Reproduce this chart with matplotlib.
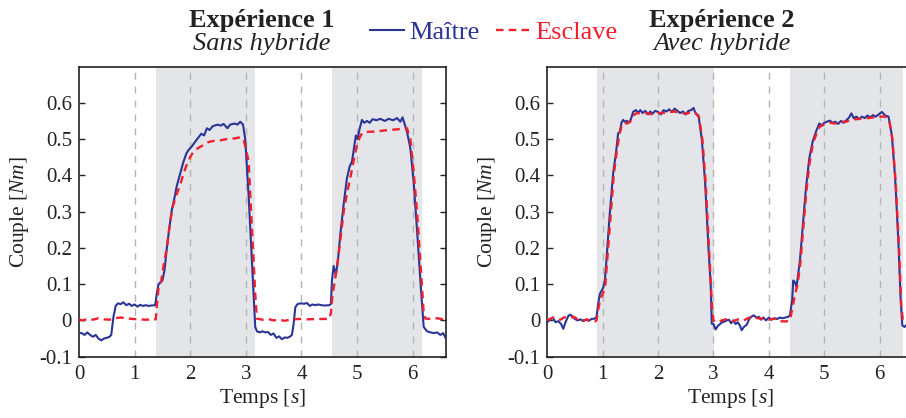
import numpy as np
import matplotlib
matplotlib.use("Agg")
import matplotlib.pyplot as plt
from matplotlib.lines import Line2D

# police type Times
plt.rcParams['font.family'] = ['Liberation Serif', 'DejaVu Serif']
plt.rcParams['mathtext.fontset'] = 'custom'
plt.rcParams['mathtext.rm'] = 'Liberation Serif'
plt.rcParams['mathtext.it'] = 'Liberation Serif:italic'

# ---- données : expérience 1 (sans hybride) ----
t1_maitre = [0.00, 0.05, 0.10, 0.15, 0.20, 0.25, 0.30, 0.35, 0.40, 0.45, 0.50, 0.55, 0.58, 0.62, 0.66,
             0.70, 0.75, 0.80, 0.85, 0.90, 0.95, 1.00, 1.05, 1.10, 1.15, 1.20, 1.25, 1.30, 1.37, 1.40,
             1.43, 1.47, 1.50, 1.54, 1.58, 1.62, 1.67, 1.72, 1.76, 1.82, 1.88, 1.93, 1.97, 2.03, 2.10,
             2.15, 2.20, 2.25, 2.30, 2.35, 2.40, 2.45, 2.50, 2.55, 2.60, 2.67, 2.72, 2.80, 2.85, 2.90,
             2.95, 2.99, 3.05, 3.11, 3.17, 3.20, 3.25, 3.30, 3.35, 3.40, 3.45, 3.50, 3.55, 3.60, 3.65,
             3.70, 3.75, 3.80, 3.83, 3.86, 3.89, 3.93, 3.98, 4.05, 4.10, 4.15, 4.20, 4.25, 4.30, 4.40,
             4.50, 4.53, 4.55, 4.58, 4.62, 4.66, 4.70, 4.76, 4.82, 4.87, 4.91, 4.95, 4.98, 5.01, 5.05,
             5.09, 5.13, 5.18, 5.23, 5.28, 5.35, 5.42, 5.50, 5.57, 5.65, 5.72, 5.78, 5.82, 5.85, 5.90,
             5.96, 6.02, 6.08, 6.14, 6.20, 6.26, 6.32, 6.38, 6.44, 6.50, 6.55, 6.60]
maitre1 = [-0.035, -0.035, -0.040, -0.033, -0.040, -0.045, -0.040, -0.050, -0.055, -0.050, -0.048, -0.045,
           -0.040, 0.010, 0.040, 0.047, 0.045, 0.050, 0.042, 0.046, 0.040, 0.044, 0.038, 0.043, 0.040,
           0.042, 0.040, 0.041, 0.042, 0.075, 0.100, 0.105, 0.110, 0.140, 0.200, 0.250, 0.305, 0.340,
           0.372, 0.405, 0.438, 0.460, 0.470, 0.480, 0.495, 0.505, 0.515, 0.510, 0.530, 0.525, 0.535,
           0.538, 0.540, 0.537, 0.542, 0.530, 0.540, 0.543, 0.540, 0.548, 0.540, 0.500, 0.347, 0.164,
           -0.018, -0.030, -0.033, -0.030, -0.033, -0.032, -0.040, -0.036, -0.048, -0.044, -0.052, -0.047,
           -0.048, -0.044, -0.040, -0.010, 0.036, 0.045, 0.047, 0.046, 0.048, 0.040, 0.044, 0.042, 0.044,
           0.041, 0.042, 0.045, 0.110, 0.150, 0.125, 0.170, 0.237, 0.320, 0.393, 0.425, 0.438, 0.480,
           0.510, 0.500, 0.530, 0.553, 0.545, 0.550, 0.545, 0.555, 0.552, 0.556, 0.550, 0.556, 0.552,
           0.558, 0.548, 0.560, 0.545, 0.520, 0.475, 0.380, 0.250, 0.110, -0.018, -0.030, -0.033, -0.035,
           -0.033, -0.040, -0.035, -0.050]

t1_esclave = [0.00, 0.08, 0.15, 0.25, 0.35, 0.45, 0.55, 0.65, 0.75, 0.90, 1.05, 1.20, 1.38, 1.40, 1.43,
              1.48, 1.53, 1.58, 1.63, 1.68, 1.75, 1.82, 1.88, 1.94, 2.00, 2.06, 2.15, 2.24, 2.33, 2.42,
              2.55, 2.66, 2.80, 2.90, 2.96, 2.99, 3.05, 3.11, 3.17, 3.20, 3.30, 3.40, 3.50, 3.60, 3.70,
              3.80, 3.95, 4.10, 4.30, 4.50, 4.53, 4.56, 4.64, 4.70, 4.76, 4.82, 4.88, 4.94, 5.00, 5.05,
              5.09, 5.20, 5.35, 5.50, 5.65, 5.80, 5.90, 5.96, 6.02, 6.08, 6.14, 6.20, 6.23, 6.35, 6.45,
              6.55, 6.60]
esclave1 = [0.002, 0.000, 0.005, 0.002, 0.006, 0.003, 0.002, 0.006, 0.008, 0.005, 0.003, 0.002, 0.003,
            0.040, 0.090, 0.110, 0.160, 0.200, 0.260, 0.310, 0.345, 0.374, 0.405, 0.430, 0.450, 0.466,
            0.476, 0.484, 0.492, 0.495, 0.497, 0.500, 0.502, 0.505, 0.500, 0.480, 0.440, 0.256, 0.073,
            0.005, 0.002, 0.004, 0.000, 0.002, -0.001, 0.002, 0.004, 0.003, 0.004, 0.004, 0.020, 0.070,
            0.146, 0.220, 0.300, 0.350, 0.393, 0.440, 0.484, 0.505, 0.516, 0.520, 0.521, 0.524, 0.526,
            0.528, 0.530, 0.500, 0.410, 0.300, 0.164, 0.020, 0.005, 0.004, 0.006, 0.003, 0.002]

# ---- données : expérience 2 (avec hybride) ----
t2_maitre = [0.00, 0.05, 0.10, 0.15, 0.20, 0.25, 0.29, 0.33, 0.38, 0.41, 0.45, 0.50, 0.55, 0.60, 0.65,
             0.70, 0.75, 0.80, 0.86, 0.89, 0.92, 0.95, 1.01, 1.04, 1.07, 1.13, 1.19, 1.24, 1.28, 1.31,
             1.34, 1.37, 1.40, 1.44, 1.47, 1.51, 1.55, 1.60, 1.64, 1.68, 1.72, 1.77, 1.82, 1.86, 1.90,
             1.95, 2.00, 2.05, 2.10, 2.15, 2.20, 2.25, 2.30, 2.35, 2.40, 2.45, 2.50, 2.55, 2.60, 2.64,
             2.68, 2.73, 2.79, 2.85, 2.91, 2.95, 2.97, 3.00, 3.04, 3.08, 3.12, 3.16, 3.20, 3.24, 3.28,
             3.32, 3.36, 3.40, 3.44, 3.48, 3.51, 3.55, 3.60, 3.65, 3.69, 3.73, 3.78, 3.82, 3.86, 3.90,
             3.95, 4.00, 4.05, 4.10, 4.15, 4.20, 4.25, 4.30, 4.35, 4.38, 4.42, 4.44, 4.47, 4.50, 4.56,
             4.62, 4.67, 4.73, 4.79, 4.85, 4.91, 4.96, 5.00, 5.05, 5.10, 5.15, 5.20, 5.25, 5.30, 5.35,
             5.40, 5.45, 5.49, 5.53, 5.58, 5.63, 5.68, 5.73, 5.78, 5.83, 5.88, 5.93, 5.98, 6.04, 6.10,
             6.16, 6.22, 6.28, 6.34, 6.38, 6.41, 6.45, 6.50, 6.55, 6.60]
maitre2 = [-0.005, 0.002, 0.008, -0.005, -0.002, -0.010, -0.023, -0.005, 0.012, 0.016, 0.012, 0.004,
           0.000, 0.003, -0.002, 0.002, -0.001, 0.004, 0.005, 0.010, 0.046, 0.073, 0.090, 0.110, 0.169,
           0.297, 0.406, 0.461, 0.516, 0.520, 0.545, 0.553, 0.548, 0.550, 0.545, 0.555, 0.575, 0.580,
           0.573, 0.580, 0.572, 0.578, 0.568, 0.576, 0.570, 0.578, 0.575, 0.568, 0.580, 0.576, 0.582,
           0.575, 0.584, 0.578, 0.572, 0.576, 0.568, 0.578, 0.580, 0.586, 0.570, 0.565, 0.500, 0.380,
           0.200, 0.100, -0.009, -0.010, -0.025, -0.015, -0.010, -0.005, -0.003, 0.000, 0.002, -0.008,
           0.000, -0.010, -0.005, -0.015, -0.027, -0.018, -0.012, 0.005, 0.011, 0.014, 0.007, 0.010,
           0.002, 0.008, 0.000, 0.008, 0.002, 0.006, 0.004, 0.008, 0.006, 0.008, 0.010, 0.014, 0.055,
           0.110, 0.105, 0.092, 0.164, 0.274, 0.365, 0.447, 0.493, 0.520, 0.543, 0.538, 0.545, 0.548,
           0.551, 0.545, 0.548, 0.542, 0.550, 0.545, 0.552, 0.560, 0.571, 0.558, 0.562, 0.555, 0.562,
           0.558, 0.565, 0.560, 0.566, 0.562, 0.568, 0.575, 0.565, 0.562, 0.511, 0.393, 0.210, 0.055,
           -0.014, -0.018, -0.010, -0.015, -0.012]

t2_esclave = [0.00, 0.06, 0.12, 0.18, 0.24, 0.30, 0.36, 0.42, 0.48, 0.54, 0.60, 0.66, 0.72, 0.78, 0.86,
              0.89, 0.92, 0.96, 1.01, 1.05, 1.09, 1.15, 1.20, 1.25, 1.30, 1.34, 1.38, 1.44, 1.50, 1.55,
              1.62, 1.70, 1.80, 1.90, 2.00, 2.10, 2.20, 2.30, 2.40, 2.50, 2.60, 2.68, 2.74, 2.80, 2.86,
              2.92, 2.97, 3.00, 3.05, 3.15, 3.25, 3.35, 3.45, 3.55, 3.62, 3.70, 3.80, 3.90, 4.00, 4.10,
              4.20, 4.30, 4.38, 4.42, 4.47, 4.52, 4.57, 4.63, 4.68, 4.74, 4.80, 4.86, 4.92, 5.00, 5.10,
              5.20, 5.30, 5.40, 5.50, 5.60, 5.70, 5.80, 5.90, 6.00, 6.10, 6.17, 6.23, 6.29, 6.35, 6.39,
              6.42, 6.50, 6.60]
esclave2 = [0.000, 0.005, 0.008, 0.005, 0.002, 0.008, 0.010, 0.008, 0.010, 0.004, 0.005, 0.000, 0.003,
            -0.002, -0.003, 0.000, 0.030, 0.060, 0.075, 0.100, 0.180, 0.300, 0.400, 0.460, 0.510, 0.535,
            0.545, 0.543, 0.548, 0.565, 0.572, 0.570, 0.572, 0.568, 0.572, 0.572, 0.575, 0.576, 0.572,
            0.570, 0.574, 0.572, 0.560, 0.500, 0.380, 0.200, 0.050, 0.000, -0.005, 0.000, 0.004, -0.002,
            0.003, 0.000, 0.006, 0.010, 0.006, 0.004, 0.002, 0.005, -0.002, -0.003, 0.000, 0.030, 0.070,
            0.100, 0.160, 0.270, 0.360, 0.440, 0.490, 0.515, 0.535, 0.540, 0.545, 0.543, 0.548, 0.548,
            0.555, 0.555, 0.558, 0.558, 0.560, 0.562, 0.562, 0.555, 0.500, 0.380, 0.200, 0.040, 0.000,
            0.002, 0.000]

# zones grisées (phases de contact)
zones1 = [(1.38, 3.17), (4.55, 6.17)]
zones2 = [(0.89, 3.01), (4.38, 6.42)]

xticks = [0, 1, 2, 3, 4, 5, 6]
yticks = [-0.1, 0, 0.1, 0.2, 0.3, 0.4, 0.5, 0.6]
yticklabels = ['-0.1', '0', '0.1', '0.2', '0.3', '0.4', '0.5', '0.6']

bleu = '#2a3596'
rouge = '#f0202e'

fig = plt.figure(figsize=(9.06, 4.18), dpi=100)
ax1 = fig.add_axes([0.0872, 0.1467, 0.405, 0.694])
ax2 = fig.add_axes([0.604, 0.1467, 0.4036, 0.694])


def trace(ax, zones, tm, m, te, e):
    for a, b in zones:
        ax.axvspan(a, b, color='#e4e5e8', lw=0, zorder=0)
    for x in xticks[1:]:
        ax.axvline(x, color='#b4b4b4', lw=1.0, dashes=(5, 5), zorder=1)
    ax.plot(tm, m, color=bleu, lw=1.5, zorder=3)
    ax.plot(te, e, color=rouge, lw=1.7, dashes=(3.2, 2.2), zorder=4)
    ax.set_xlim(0, 6.6)
    ax.set_ylim(-0.1, 0.7)
    ax.set_xticks(xticks)
    ax.set_yticks(yticks)
    ax.set_yticklabels(yticklabels)
    ax.tick_params(direction='in', length=4, width=1, labelsize=15, right=True, pad=5,
                   colors='#222222')
    ax.tick_params(axis='x', length=0, pad=6)
    for s in ax.spines.values():
        s.set_linewidth(1.2)
        s.set_color('#222222')
    ax.set_xlabel('Temps [$s$]', fontsize=15.5, labelpad=2, color='#222222')
    ax.set_ylabel('Couple [$Nm$]', fontsize=15.5, labelpad=6, color='#222222')


trace(ax1, zones1, t1_maitre, maitre1, t1_esclave, esclave1)
trace(ax2, zones2, t2_maitre, maitre2, t2_esclave, esclave2)

# titres
fig.text(262 / 906, 0.935, 'Expérience 1', ha='center', va='baseline', fontsize=19,
         fontweight='bold', color='#222222')
fig.text(262 / 906, 0.880, 'Sans hybride', ha='center', va='baseline', fontsize=19,
         style='italic', color='#222222')
fig.text(722 / 906, 0.935, 'Expérience 2', ha='center', va='baseline', fontsize=19,
         fontweight='bold', color='#222222')
fig.text(722 / 906, 0.880, 'Avec hybride', ha='center', va='baseline', fontsize=19,
         style='italic', color='#222222')

# légende
h = [Line2D([], [], color=bleu, lw=1.5),
     Line2D([], [], color=rouge, lw=1.7, dashes=(3.2, 2.2))]
leg = fig.legend(h, ['Maître', 'Esclave'], loc='center', bbox_to_anchor=(0.545, 0.922),
                 ncol=2, frameon=False, fontsize=19, handlelength=1.3, handletextpad=0.2,
                 columnspacing=0.6, borderpad=0)
for txt, c in zip(leg.get_texts(), [bleu, rouge]):
    txt.set_color(c)

fig.savefig('out.png', dpi=100)
